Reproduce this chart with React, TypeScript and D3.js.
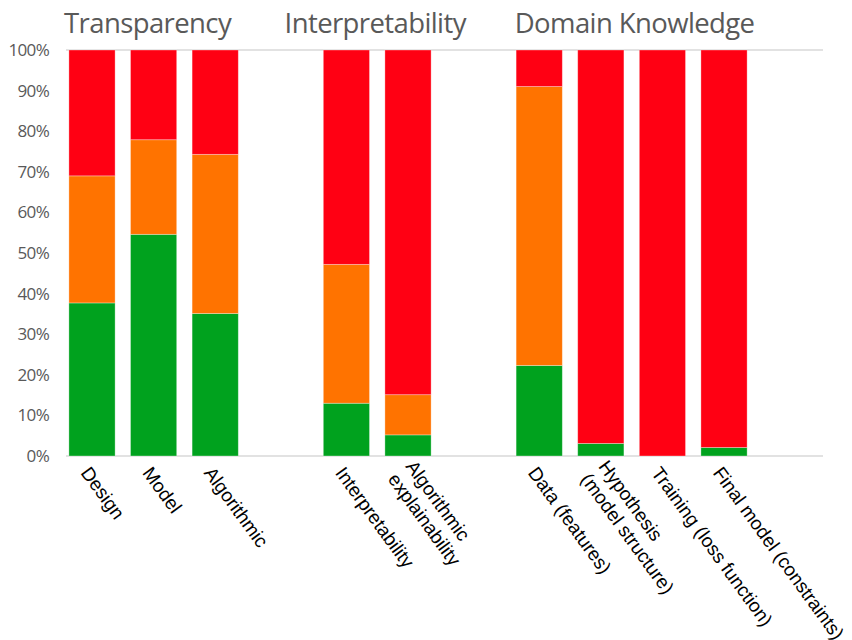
import React from "react";
import { scaleLinear, stack } from "d3";

const svgWidth = 852;
const svgHeight = 640;
const margin = { top: 50, bottom: 184, left: 66, right: 29 };
const labelAngle = 54;
const labelSize = 19;
const lineHeight = 22;
const titleNudge = [-6, -2, 3];

// chart data
const groups = ["Transparency", "Interpretability", "Domain Knowledge"];
const categories = [
  ["Design"],
  ["Model"],
  ["Algorithmic"],
  ["Interpretability"],
  ["Algorithmic", "explainability"],
  ["Data (features)"],
  ["Hypothesis", "(model structure)"],
  ["Training (loss function)"],
  ["Final model (constraints)"],
];
const categoryGroup = [0, 0, 0, 1, 1, 2, 2, 2, 2];
const greenValues = [37.7, 54.6, 35.1, 13.0, 5.2, 22.3, 3.1, 0, 2.1];
const orangeValues = [31.3, 23.3, 39.2, 34.2, 9.9, 68.7, 0, 0, 0];
const redValues = [31.0, 22.1, 25.7, 52.8, 84.9, 9.0, 96.9, 100, 97.9];
const yTicks = [0, 10, 20, 30, 40, 50, 60, 70, 80, 90, 100];

const seriesKeys = ["green", "orange", "red"];
const colors = { green: "#00a21e", orange: "#ff7300", red: "#ff0013" };

const groupGap = 1.13; // extra slots between groups
const slotOf = (i: number) => i + categoryGroup[i] * groupGap;

export default function App() {
  const rows = categories.map((c, i) => ({
    green: greenValues[i],
    orange: orangeValues[i],
    red: redValues[i],
  }));
  const series = stack().keys(seriesKeys)(rows as any);

  const x = scaleLinear().domain([0, 1]).range([92, 153.6]);
  const barWidth = (x(1) - x(0)) * 0.75;
  const y = scaleLinear()
    .domain([0, 100])
    .range([svgHeight - margin.bottom, margin.top]);

  return (
    <svg
      width={svgWidth}
      height={svgHeight}
      style={{ position: "absolute", left: 0, top: 0, background: "#fff" }}
    >
      {/* group titles */}
      {groups.map((g, gi) => {
        const idx = categoryGroup
          .map((v, i) => (v === gi ? i : -1))
          .filter((i) => i >= 0);
        const cx = (x(slotOf(idx[0])) + x(slotOf(idx[idx.length - 1]))) / 2;
        return (
          <text
            key={g}
            x={cx + titleNudge[gi]}
            y={33}
            textAnchor="middle"
            fontFamily="'Open Sans', sans-serif"
            fontSize={27.5}
            letterSpacing={-0.6}
            fill="#595959"
          >
            {g}
          </text>
        );
      })}

      {/* y axis labels */}
      {yTicks.map((t) => (
        <text
          key={`y${t}`}
          x={49}
          y={y(t)}
          dy="0.35em"
          textAnchor="end"
          fontFamily="'Open Sans', sans-serif"
          fontSize={17}
          letterSpacing={-0.7}
          fill="#595959"
        >
          {t}%
        </text>
      ))}

      {/* top and bottom lines */}
      {[0, 100].map((t) => (
        <line
          key={`g${t}`}
          x1={margin.left}
          x2={svgWidth - margin.right}
          y1={y(t)}
          y2={y(t)}
          stroke="#d9d9d9"
          strokeWidth={1.5}
        />
      ))}

      {/* bars */}
      {series.map((s) => (
        <g key={s.key} fill={colors[s.key as keyof typeof colors]}>
          {s.map((d, i) =>
            d[1] - d[0] > 0 ? (
              <rect
                key={i}
                x={x(slotOf(i)) - barWidth / 2}
                y={y(d[1])}
                width={barWidth}
                height={y(d[0]) - y(d[1])}
                stroke="rgba(255,255,255,0.4)"
                strokeWidth={0.8}
              />
            ) : null
          )}
        </g>
      ))}

      {/* rotated category labels */}
      {categories.map((lines, i) => {
        const ox = x(slotOf(i)) - 6.5;
        const oy = y(0) + 13;
        return (
          <text
            key={`c${i}`}
            transform={`translate(${ox},${oy}) rotate(${labelAngle})`}
            fontFamily="'Liberation Sans', Arial, sans-serif"
            fontSize={labelSize}
            fill="#000"
          >
            {lines.map((l, li) => (
              <tspan
                key={li}
                x={0}
                y={(li - (lines.length - 1) / 2) * lineHeight}
                dy="0.35em"
              >
                {l}
              </tspan>
            ))}
          </text>
        );
      })}
    </svg>
  );
}
